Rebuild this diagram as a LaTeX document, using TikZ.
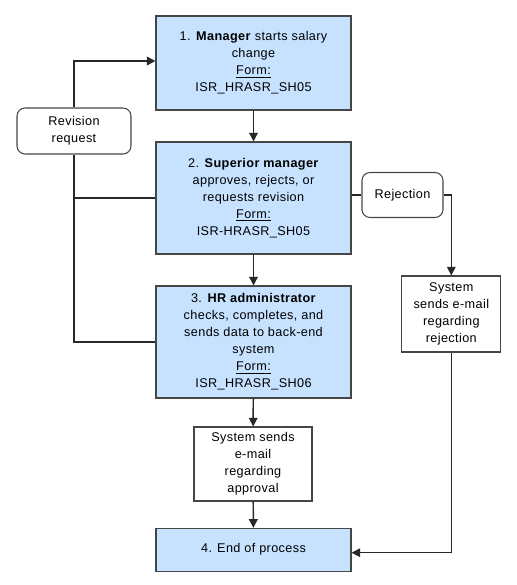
\documentclass[tikz,border=0pt]{standalone}
\usepackage{fontspec}
\setmainfont{Liberation Sans}[LetterSpace=3]
\usetikzlibrary{arrows.meta,calc}
\definecolor{boxblue}{RGB}{198,226,255}
\definecolor{edge}{RGB}{70,70,70}
\definecolor{conn}{RGB}{40,40,40}
\tikzset{
  x=0.75pt, y=-0.75pt,
  every node/.style={font=\fontsize{9.5}{12.75}\selectfont, align=center, inner sep=0pt},
  bluebox/.style={draw=edge, fill=boxblue, line width=0.8pt, minimum width=146.25pt},
  whitebox/.style={draw=edge, fill=white, line width=0.8pt},
  roundbox/.style={draw=edge, fill=white, line width=0.8pt, rounded corners=6pt},
  conline/.style={draw=conn, line width=1.1pt},
  arr/.style={conline, -{Triangle[width=6.5pt,length=6.5pt]}},
}
\begin{document}
\begin{tikzpicture}
\useasboundingbox (0,0) rectangle (517,585);
\node[bluebox, minimum height=70.5pt] (b1) at (253.5,63) {1. \textbf{Manager} starts salary\\change\\\underline{Form:}\\ISR\_HRASR\_SH05};
\node[bluebox, minimum height=84pt] (b2) at (253.5,198) {2. \textbf{Superior manager}\\approves, rejects, or\\requests revision\\\underline{Form:}\\ISR-HRASR\_SH05};
\node[bluebox, minimum height=84pt] (b3) at (253.5,342) {3. \textbf{HR administrator}\\checks, completes, and\\sends data to back-end\\system\\\underline{Form:}\\ISR\_HRASR\_SH06};
\node[bluebox, minimum height=32pt] (b4) at (253.5,549.7) {4. End of process};
\node[whitebox, minimum width=88.5pt, minimum height=55.5pt] (appr) at (253,464) {System sends\\e-mail\\regarding\\approval};
\node[whitebox, minimum width=74.25pt, minimum height=57pt] (remail) at (451.3,314) {System\\sends e-mail\\regarding\\rejection};
\node[roundbox, minimum width=60.75pt, minimum height=33.75pt] (rej) at (402.5,195) {Rejection};
\node[roundbox, minimum width=85.5pt, minimum height=34.5pt] (rev) at (74,131) {Revision\\request};
% main flow
\draw[arr] (b1) -- (b2);
\draw[arr] (b2) -- (b3);
\draw[arr] (b3) -- (appr);
\draw[arr] (appr) -- (b4);
% revision loop
\draw[arr] (rev.north) |- ([yshift=1.5pt]b1.west);
\draw[conline] (b3.west) -| (rev.south);
\draw[conline] (b2.west) -- (b2.west -| rev.south);
% rejection path
\draw[conline] (b2.east |- rej.west) -- (rej.west);
\draw[arr] (rej.east) -| (remail.north);
\draw[arr] (remail.south) |- ([yshift=-2.25pt]b4.east);
\end{tikzpicture}
\end{document}
